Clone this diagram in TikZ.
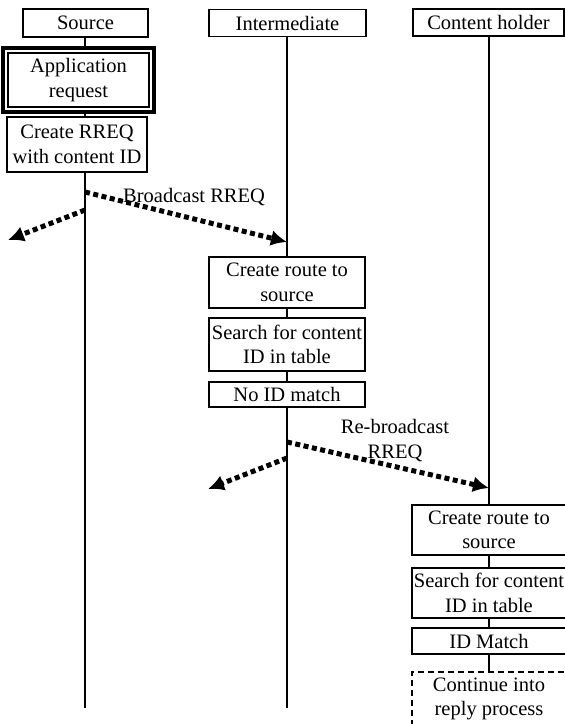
\documentclass[tikz,border=0pt]{standalone}
\usepackage{fontspec}
\setmainfont{Liberation Serif}
\usetikzlibrary{arrows.meta}
\begin{document}
\begin{tikzpicture}[x=1pt,y=-1pt,
  box/.style={draw, line width=1.4pt, fill=white, align=center, inner sep=0pt, font=\fontsize{20.5}{24.5}\selectfont},
  dbox/.style={box, dashed, dash pattern=on 6pt off 4pt},
  life/.style={line width=2pt},
  bcast/.style={line width=5pt, dash pattern=on 5pt off 3.5pt, -{Latex[length=16pt,width=16pt]}},
  lbl/.style={font=\fontsize{20.5}{24.5}\selectfont, inner sep=0pt, align=center}]
\useasboundingbox (0,0) rectangle (565,724);
% headers
\node[box, minimum width=125pt, minimum height=28pt] (src) at (85.5,23) {Source};
\node[box, minimum width=157pt, minimum height=27pt] (int) at (287.5,23) {Intermediate};
\node[box, minimum width=151pt, minimum height=27pt] (con) at (488.5,22.5) {Content holder};
% lifelines
\coordinate (srcEnd) at (85,708);
\coordinate (intEnd) at (287,708);
\coordinate (conEnd) at (489,708);
\draw[life] (src.south -| srcEnd) -- (srcEnd);
\draw[life] (int.south -| intEnd) -- (intEnd);
\draw[life] (con.south -| conEnd) -- (conEnd);
% source boxes
\node[box, line width=3.5pt, minimum width=151pt, minimum height=64pt] (appo) at (78.5,80) {};
\node[box, line width=2pt, minimum width=141pt, minimum height=54pt] (app) at (78.5,80) {Application\\request};
\node[box, minimum width=140pt, minimum height=55pt] (crreq) at (77,144.5) {Create RREQ\\with content ID};
% broadcast
\coordinate (b0) at (85,192);
\coordinate (b1) at (85,210);
\coordinate (bR) at (287,242);
\coordinate (bL) at (8,240);
\draw[bcast] (b0) -- (bR);
\draw[bcast] (b1) -- (bL);
\node[lbl, anchor=base west] (blab) at (123,202) {Broadcast RREQ};
% intermediate boxes
\node[box, minimum width=156pt, minimum height=51pt] (icr) at (287,282.5) {Create route to\\source};
\node[box, minimum width=156pt, minimum height=53pt] (isr) at (287,344.5) {Search for content\\ID in table};
\node[box, minimum width=156pt, minimum height=25pt] (ino) at (287,394.5) {No ID match};
% re-broadcast
\coordinate (r0) at (287,442);
\coordinate (r1) at (287,458);
\coordinate (rR) at (489,488);
\coordinate (rL) at (208,489);
\draw[bcast] (r0) -- (rR);
\draw[bcast] (r1) -- (rL);
\node[lbl, anchor=base] (rlab) at (395,458) {Re-broadcast\\RREQ};
% content holder boxes
\node[box, minimum width=154pt, minimum height=50pt] (ccr) at (489,530) {Create route to\\source};
\node[box, minimum width=154pt, minimum height=50pt] (csr) at (489,593) {Search for content\\ID in table};
\node[box, minimum width=154pt, minimum height=26pt] (cid) at (489,641) {ID Match};
\node[dbox, minimum width=154pt, minimum height=54pt] (ccont) at (489,699) {Continue into\\reply process};
\end{tikzpicture}
\end{document}
